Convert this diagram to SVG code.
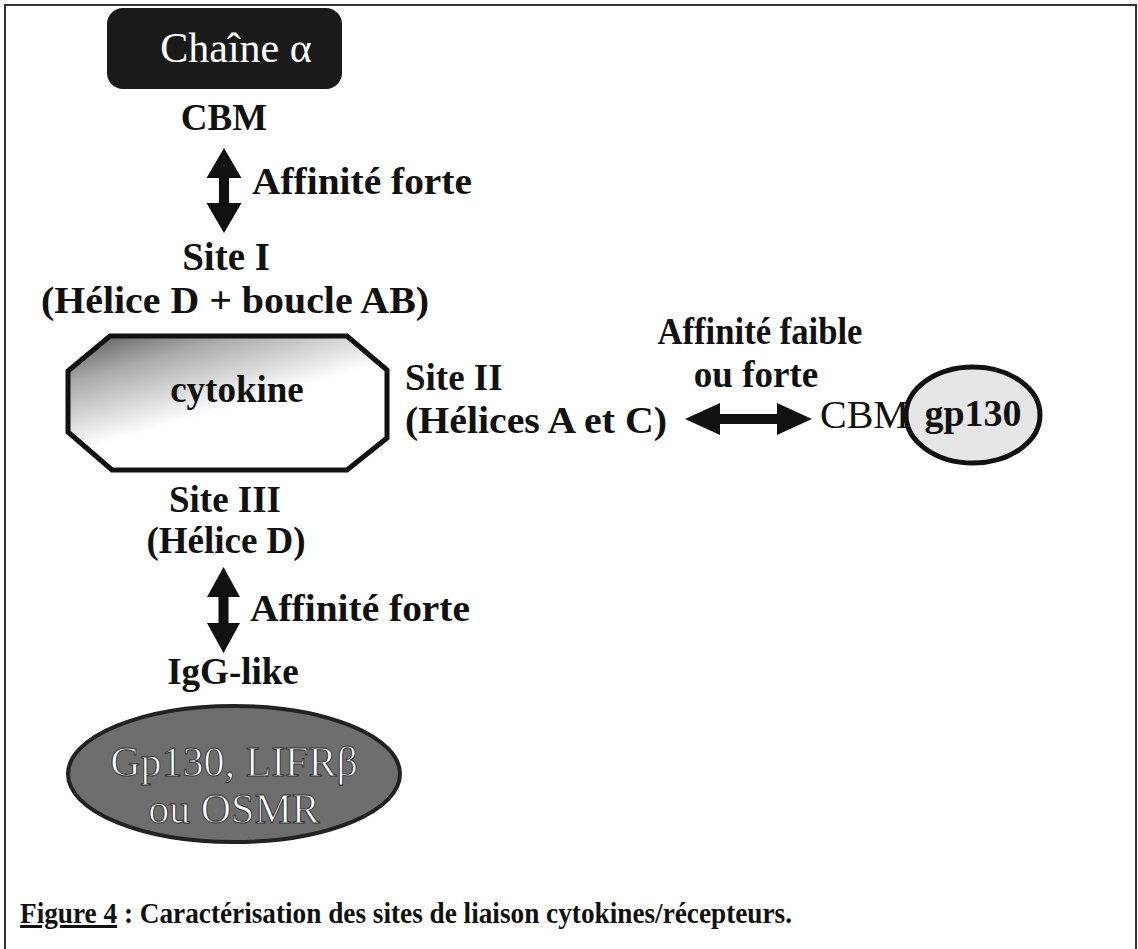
<svg xmlns="http://www.w3.org/2000/svg" width="1138" height="949" viewBox="0 0 1138 949">
<style>
.t{font-family:"Liberation Serif","Times New Roman",serif;font-weight:bold;font-size:37px;fill:#111}
.c{text-anchor:middle}
.w{font-family:"Liberation Serif","Times New Roman",serif;font-weight:normal;font-size:42px;fill:#fff;text-anchor:middle}
</style>
<defs>
<linearGradient id="cyto" x1="0" y1="0" x2="0.55" y2="0.8">
<stop offset="0" stop-color="#555"/>
<stop offset="0.3" stop-color="#aaa"/>
<stop offset="0.75" stop-color="#fff"/>
</linearGradient>
</defs>
<rect x="5" y="5" width="1131" height="960" fill="#fff" stroke="#333" stroke-width="2"/>

<g id="chaine-alpha">
<rect x="107" y="8" width="235" height="81" rx="16" fill="#1a1a1a"/>
<text class="w" x="236" y="62">Chaîne α</text>
<text class="t c" x="224" y="130">CBM</text>
</g>

<g id="site1">
<text class="t c" x="226" y="270" style="font-size:39px">Site I</text>
<text class="t c" x="235" y="313" textLength="388" lengthAdjust="spacingAndGlyphs">(Hélice D + boucle AB)</text>
</g>

<g id="cytokine">
<polygon points="110,336 347,336 387,370 387,438 347,470 112,470 68,432 68,371" fill="url(#cyto)" stroke="#111" stroke-width="5"/>
<text class="t c" x="237" y="402">cytokine</text>
</g>

<g id="site2">
<text class="t" x="405" y="390">Site II</text>
<text class="t" x="405" y="433" textLength="262" lengthAdjust="spacingAndGlyphs">(Hélices A et C)</text>
</g>

<g id="site3">
<text class="t c" x="225" y="512">Site III</text>
<text class="t c" x="226" y="553">(Hélice D)</text>
</g>

<g id="gp130">
<text class="t" x="820" y="428" style="font-weight:normal;font-size:40px">CBM</text>
<ellipse cx="973" cy="415" rx="67" ry="48" fill="#e6e6e6" stroke="#111" stroke-width="5"/>
<text class="t c" x="973" y="426" style="font-size:38px">gp130</text>
</g>

<g id="igg">
<text class="t c" x="233" y="684">IgG-like</text>
</g>

<g id="receptors">
<ellipse cx="234" cy="774" rx="166" ry="68" fill="#6e6e6e" stroke="#222" stroke-width="4"/>
<text class="w" x="234" y="776" stroke="#333" stroke-width="1">Gp130, LIFRβ</text>
<text class="w" x="234" y="823" stroke="#333" stroke-width="1">ou OSMR</text>
</g>

<g id="connectors" fill="#111">
<polygon points="224,148 241.5,178 229,178 229,203 241.5,203 224,233 206.5,203 219,203 219,178 206.5,178"/>
<polygon points="223.5,567 240,597 228.5,597 228.5,623 240,623 223.5,653 207,623 218.5,623 218.5,597 207,597"/>
<polygon points="685,419 720,403 720,414 777,414 777,403 812,419 777,435 777,424 720,424 720,435"/>
<text class="t" x="252" y="194" textLength="220" lengthAdjust="spacingAndGlyphs">Affinité forte</text>
<text class="t" x="250" y="621" textLength="220" lengthAdjust="spacingAndGlyphs">Affinité forte</text>
<text class="t c" x="760" y="344" textLength="205" lengthAdjust="spacingAndGlyphs">Affinité faible</text>
<text class="t c" x="756" y="387">ou forte</text>
</g>

<g id="caption">
<text class="t" x="20" y="923" style="font-size:30px" textLength="772" lengthAdjust="spacingAndGlyphs"><tspan text-decoration="underline">Figure 4</tspan> : Caractérisation des sites de liaison cytokines/récepteurs.</text>
</g>
</svg>
